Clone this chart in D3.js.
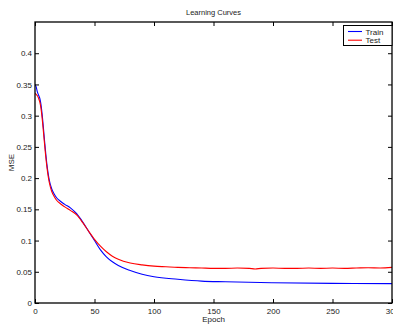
<!DOCTYPE html>
<html><head><meta charset="utf-8">
<script src="https://cdn.jsdelivr.net/npm/d3@7/dist/d3.min.js"></script>
<style>body{margin:0;background:#fff}svg{display:block}text{font-family:"Liberation Sans",Arial,sans-serif;fill:#222}</style>
</head><body><svg id="c" width="393" height="325"></svg>
<script>
const trainEpochs = [0,1,2,3,4,5,6,7,8,9,10,11,12,14,16,18,20,25,30,35,40,45,50,55,60,65,70,80,90,100,120,140,160,200,250,300];
const trainMSE = [0.350,0.346,0.338,0.333,0.328,0.318,0.302,0.282,0.260,0.240,0.222,0.208,0.197,0.183,0.175,0.169,0.165,0.158,0.152,0.143,0.130,0.115,0.100,0.085,0.074,0.066,0.060,0.052,0.046,0.042,0.038,0.035,0.034,0.0325,0.0315,0.031];
const testEpochs = [0,1,2,3,4,5,6,7,8,9,10,11,12,14,16,18,20,25,30,35,40,45,50,55,60,65,70,80,90,100,110,120,130,140,150,160,170,180,185,190,200,210,220,230,240,250,260,270,280,290,300];
const testMSE = [0.336,0.334,0.332,0.328,0.322,0.312,0.296,0.276,0.255,0.235,0.218,0.204,0.193,0.179,0.171,0.165,0.161,0.154,0.148,0.141,0.129,0.115,0.102,0.091,0.082,0.075,0.070,0.064,0.061,0.059,0.058,0.057,0.0565,0.056,0.0555,0.0555,0.056,0.0555,0.0545,0.0555,0.056,0.0555,0.0555,0.056,0.0555,0.056,0.0555,0.056,0.0565,0.056,0.057];
const xTicks = [0,50,100,150,200,250,300];
const yTicks = [0,0.05,0.1,0.15,0.2,0.25,0.3,0.35,0.4];
const seriesNames = ["Train","Test"];
const seriesColors = ["#0000ff","#ff0000"];

const svg = d3.select("#c");
const L=35,R=392,T=22,B=303;
const x = d3.scaleLinear().domain([0,300]).range([L,R]);
const y = d3.scaleLinear().domain([0,0.45]).range([B,T]);

const clip = svg.append("clipPath").attr("id","clp").append("rect").attr("x",L).attr("y",T).attr("width",R-L).attr("height",B-T);
const line = d3.line().x(d=>x(d[0])).y(d=>y(d[1])).curve(d3.curveMonotoneX);
const series = [d3.zip(trainEpochs,trainMSE), d3.zip(testEpochs,testMSE)];
series.forEach((s,i)=>{
  svg.append("path").datum(s).attr("d",line).attr("fill","none").attr("stroke",seriesColors[i]).attr("stroke-width",1.1).attr("clip-path","url(#clp)");
});

const fmt = d=> d===0?"0":String(d);
const ax = svg.append("g").attr("transform",`translate(0,${B})`).call(d3.axisBottom(x).tickValues(xTicks).tickFormat(fmt).tickSizeInner(-4).tickSizeOuter(0).tickPadding(5));
const ay = svg.append("g").attr("transform",`translate(${L},0)`).call(d3.axisLeft(y).tickValues(yTicks).tickFormat(fmt).tickSizeInner(-4).tickSizeOuter(0).tickPadding(3));
const axT = svg.append("g").attr("transform",`translate(0,${T})`).call(d3.axisTop(x).tickValues(xTicks).tickFormat("").tickSizeInner(-4).tickSizeOuter(0));
const ayR = svg.append("g").attr("transform",`translate(${R},0)`).call(d3.axisRight(y).tickValues(yTicks).tickFormat("").tickSizeInner(-4).tickSizeOuter(0));
[ax,ay,axT,ayR].forEach(g=>{g.select(".domain").remove();g.selectAll("line").attr("stroke","#000").attr("stroke-width",1);g.selectAll("text").attr("font-size",8).attr("fill","#222").attr("font-family","Liberation Sans, Arial, sans-serif");});
svg.append("rect").attr("x",L).attr("y",T).attr("width",R-L).attr("height",B-T).attr("fill","none").attr("stroke","#000").attr("stroke-width",1.3);

svg.append("text").attr("x",(L+R)/2).attr("y",15).attr("text-anchor","middle").attr("font-size",7.5).text("Learning Curves");
svg.append("text").attr("x",(L+R)/2).attr("y",322).attr("text-anchor","middle").attr("font-size",8).text("Epoch");
svg.append("text").attr("transform",`translate(14,${(T+B)/2}) rotate(-90)`).attr("text-anchor","middle").attr("font-size",8).text("MSE");

const lg = svg.append("g");
lg.append("rect").attr("x",343.5).attr("y",25.5).attr("width",48.5).attr("height",20).attr("fill","#fff").attr("stroke","#000").attr("stroke-width",1);
seriesNames.forEach((n,i)=>{
  const yy = 31.5 + i*8.7;
  lg.append("line").attr("x1",348).attr("x2",362).attr("y1",yy).attr("y2",yy).attr("stroke",seriesColors[i]).attr("stroke-width",1.1);
  lg.append("text").attr("x",365.5).attr("y",yy+3).attr("font-size",8).text(n);
});
</script></body></html>
